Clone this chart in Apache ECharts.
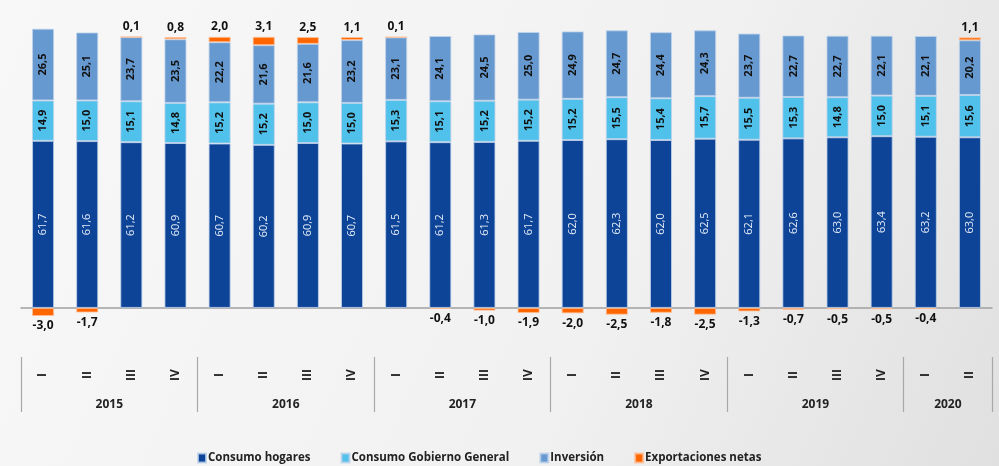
<!DOCTYPE html>
<html>
<head>
<meta charset="utf-8">
<script src="https://cdn.jsdelivr.net/npm/echarts@6/dist/echarts.min.js"></script>
<style>
    html, body {margin: 0; padding: 0;}
    #chart {width: 999px; height: 466px;}
</style>
</head>
<body>
<div id="chart"></div>
<script>
// trimestres 2015-I .. 2020-II
var quarters = ['I', 'II', 'III', 'IV', 'I', 'II', 'III', 'IV', 'I', 'II', 'III', 'IV',
    'I', 'II', 'III', 'IV', 'I', 'II', 'III', 'IV', 'I', 'II'];
var years = ['2015', '2016', '2017', '2018', '2019', '2020'];
var yearCenters = [2, 6, 10, 14, 18, 21];
var yearBreaks = [0, 4, 8, 12, 16, 20, 22];

var hogares = [61.7, 61.6, 61.2, 60.9, 60.7, 60.2, 60.9, 60.7, 61.5, 61.2, 61.3, 61.7,
    62.0, 62.3, 62.0, 62.5, 62.1, 62.6, 63.0, 63.4, 63.2, 63.0];
var gobierno = [14.9, 15.0, 15.1, 14.8, 15.2, 15.2, 15.0, 15.0, 15.3, 15.1, 15.2, 15.2,
    15.2, 15.5, 15.4, 15.7, 15.5, 15.3, 14.8, 15.0, 15.1, 15.6];
var inversion = [26.5, 25.1, 23.7, 23.5, 22.2, 21.6, 21.6, 23.2, 23.1, 24.1, 24.5, 25.0,
    24.9, 24.7, 24.4, 24.3, 23.7, 22.7, 22.7, 22.1, 22.1, 20.2];
var exportaciones = [-3.0, -1.7, 0.1, 0.8, 2.0, 3.1, 2.5, 1.1, 0.1, -0.4, -1.0, -1.9,
    -2.0, -2.5, -1.8, -2.5, -1.3, -0.7, -0.5, -0.5, -0.4, 1.1];

var font = "'Liberation Sans Narrow', 'Open Sans', sans-serif";

function fmt(p) {
    return p.value.toFixed(1).replace('.', ',');
}

function barSerie(name, data, color, labelColor, bold) {
    return {
        name: name,
        type: 'bar',
        stack: 'pib',
        barWidth: '50%',
        data: data,
        itemStyle: {color: color, borderColor: 'rgba(190,210,235,0.8)', borderWidth: 1},
        label: {
            show: true,
            position: 'inside',
            rotate: 90,
            color: labelColor,
            fontSize: 11,
            fontWeight: bold ? 'bold' : 'normal',
            fontFamily: font,
            formatter: fmt
        }
    };
}

var expData = exportaciones.map(function (v) {
    return {value: v, label: {position: v < 0 ? 'bottom' : 'top'}};
});

var chart = echarts.init(document.getElementById('chart'));
var option = {
    animation: false,
    backgroundColor: new echarts.graphic.LinearGradient(0, 0, 1, 1, [
        {offset: 0, color: '#f8f8f8'},
        {offset: 0.6, color: '#f1f1f1'},
        {offset: 1, color: '#e0e0e0'}
    ]),
    grid: {left: 21, right: 7, top: 10, height: 325},
    legend: {
        bottom: 2,
        left: 197,
        padding: 0,
        itemWidth: 8,
        itemHeight: 9,
        itemGap: 30,
        icon: 'rect',
        textStyle: {fontSize: 11.5, fontWeight: 'bold', color: '#222', fontFamily: font, padding: [0, 0, 0, -3]},
        data: ['Consumo hogares', 'Consumo Gobierno General', 'Inversión', 'Exportaciones netas']
    },
    xAxis: [
        {
            type: 'category',
            data: quarters,
            axisLine: {onZero: true, lineStyle: {color: '#a0a0a0', width: 1.5}},
            axisTick: {show: false},
            axisLabel: {show: false}
        },
        {
            type: 'category',
            data: quarters,
            position: 'bottom',
            axisLine: {show: false},
            axisTick: {show: false},
            axisLabel: {
                rotate: 90,
                align: 'center',
                margin: 40,
                interval: 0,
                fontSize: 12,
                fontWeight: 'bold',
                color: '#222',
                fontFamily: font
            }
        },
        {
            type: 'value',
            min: 0,
            max: 22,
            position: 'bottom',
            offset: 22,
            splitLine: {show: false},
            axisLine: {show: false},
            axisTick: {
                show: true,
                customValues: yearBreaks,
                length: 55,
                lineStyle: {color: '#a8a8a8', width: 1.2}
            },
            axisLabel: {
                customValues: yearCenters,
                margin: 42,
                fontSize: 12,
                fontWeight: 'bold',
                color: '#222',
                fontFamily: font,
                formatter: function (v) {
                    return years[yearCenters.indexOf(v)];
                }
            }
        }
    ],
    yAxis: {
        type: 'value',
        min: -10,
        max: 110,
        show: false,
        splitLine: {show: false}
    },
    series: [
        barSerie('Consumo hogares', hogares, '#0d4497', '#e6edf8', false),
        barSerie('Consumo Gobierno General', gobierno, '#4fc1ea', '#111', true),
        barSerie('Inversión', inversion, '#6699cf', '#111', true),
        {
            name: 'Exportaciones netas',
            type: 'bar',
            stack: 'pib',
            barWidth: '50%',
            data: expData,
            itemStyle: {color: '#ff6600', borderColor: 'rgba(255,190,150,0.8)', borderWidth: 1},
            label: {
                show: true,
                distance: 4,
                color: '#111',
                fontSize: 12,
                fontWeight: 'bold',
                fontFamily: font,
                formatter: fmt
            }
        }
    ]
};
chart.setOption(option);
</script>
</body>
</html>
